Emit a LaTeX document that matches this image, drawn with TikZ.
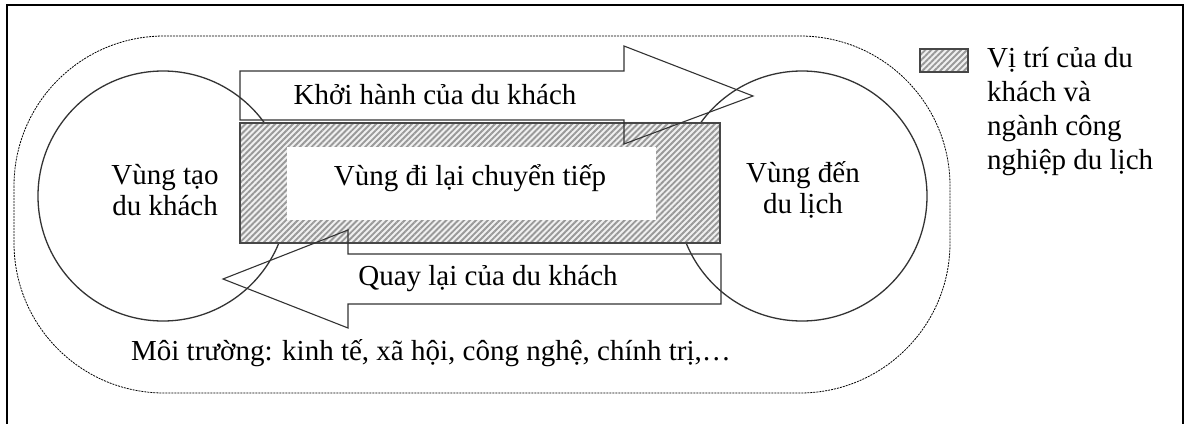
\documentclass[tikz,border=0pt]{standalone}
\usepackage{fontspec}
\setmainfont{Liberation Serif}
\usetikzlibrary{patterns.meta}
\definecolor{ink}{HTML}{333333}
\begin{document}
\begin{tikzpicture}[x=1pt, y=-1pt,
  zone/.style={draw=ink, line width=1.3pt},
  hatched/.style={draw=ink!90, line width=1.4pt, preaction={fill=gray!12},
    pattern={Lines[angle=45, distance=4.2pt, line width=1.9pt]}, pattern color=gray!80},
  flow/.style={draw=ink, line width=1.1pt},
  lbl/.style={font=\fontsize{29}{31}\selectfont, align=center, inner sep=0pt},
  lgd/.style={font=\fontsize{29}{34}\selectfont, align=left, inner sep=0pt, anchor=north west}]
\useasboundingbox (0,0) rectangle (1186,423);
% page frame (open at the bottom)
\draw[line width=1.3pt] (7,430) -- (7,5) -- (1183,5) -- (1183,430);
% surrounding environment
\draw[line width=0.8pt, dash pattern=on 2pt off 1pt, rounded corners=150pt]
  (14,36) rectangle (950,393);
% origin and destination regions
\node[zone, circle, minimum size=250pt, inner sep=0pt] (gen) at (163,196) {};
\node[zone, circle, minimum size=250pt, inner sep=0pt] (dest) at (802,196) {};
% transit region
\path[hatched] (240,123) rectangle (720,243);
\node[fill=white, draw=none, minimum width=369pt, minimum height=73pt, inner sep=0pt] (transit) at (471.5,183.5) {};
% departing flow
\draw[flow] (240,71) coordinate (dA) -- (624,71) -- (624,46) -- (753,96) -- (624,144) -- (624,120) -- (240,120) -- cycle;
% returning flow
\draw[flow] (721,254) coordinate (rA) -- (348,254) -- (348,230) -- (223,279) -- (348,328) -- (348,304) -- (721,304) -- cycle;
% labels
\node[lbl] (genl) at (165,190) {Vùng tạo\\du khách};
\node[lbl] (destl) at (803,190) {Vùng đến\\du lịch};
\node[lbl] (transl) at (470,178) {Vùng đi lại chuyển tiếp};
\node[lbl] (depl) at (435,95) {Khởi hành của du khách};
\node[lbl] (retl) at (488,279) {Quay lại của du khách};
\node[lbl] (envl) at (431,353) {Môi trường: kinh tế, xã hội, công nghệ, chính trị,…};
% legend
\path[hatched, line width=1.6pt] (920,49) rectangle (968,72);
\node[lgd] (key) at (987,47) {Vị trí của du\\khách và\\ngành công\\nghiệp du lịch};
\end{tikzpicture}
\end{document}
